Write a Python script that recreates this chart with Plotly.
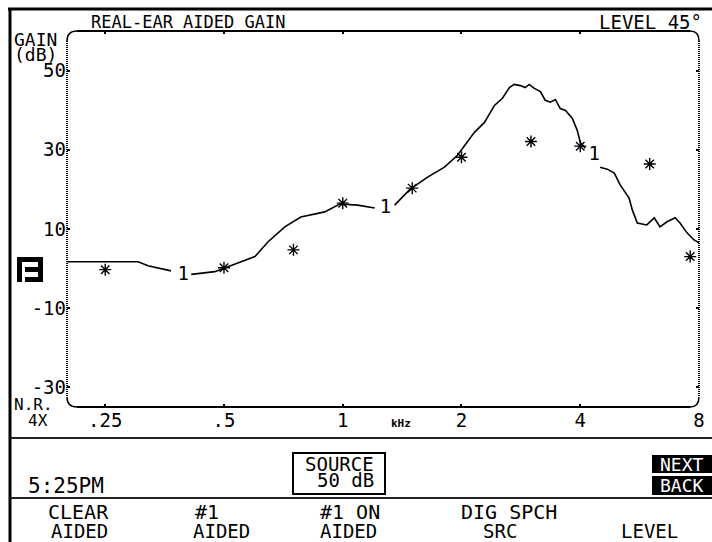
import math
import plotly.graph_objects as go

# ---------------- data ----------------
freq_khz = [0.2, 0.303, 0.321, 0.367, None,
            0.413, 0.474, 0.542, 0.599, 0.646, 0.713, 0.783, 0.900, 0.983, 1.091, 1.205, None,
            1.354, 1.48, 1.641, 1.811, 1.954, 2.071, 2.157, 2.287, 2.424, 2.54, 2.645, 2.72, 2.82,
            2.90, 2.97, 3.06, 3.17, 3.26, 3.36, 3.46, 3.56, 3.67, 3.82, 3.93, 4.0, 4.12, None,
            4.49, 4.68, 4.88, 5.05, 5.32, 5.42, 5.58, 5.9, 6.16, 6.37, 6.64, 6.96, 7.16, 7.46, 7.77, 8.0]
gain_db = [1.7, 1.7, 0.7, -0.6, None,
           -1.5, -0.8, 1.4, 3.0, 6.7, 10.5, 13.0, 14.3, 16.3, 16.0, 15.3, None,
           16.0, 20.0, 23.1, 25.6, 28.6, 31.9, 34.4, 36.9, 41.2, 43.0, 45.7, 46.5, 46.2,
           45.7, 46.5, 45.5, 44.7, 42.5, 42.0, 42.7, 40.4, 39.9, 37.9, 34.9, 31.9, 30.4, None,
           25.6, 25.1, 24.1, 21.1, 17.8, 14.8, 11.5, 11.0, 12.8, 10.5, 11.8, 12.8, 11.5, 9.0, 7.2, 6.5]

target_freq = [0.25, 0.5, 0.75, 1.0, 1.5, 2.0, 3.0, 4.0, 6.0, 7.6]
target_gain = [-0.3, 0.2, 4.7, 16.5, 20.3, 28.1, 32.1, 30.9, 26.4, 3.0]

label_freq = [0.394, 1.284, 4.34]
label_gain = [-1.6, 15.3, 28.6]
label_text = ["1", "1", "1"]

x_tickvals = [0.25, 0.5, 1, 2, 4, 8]
x_ticktext = [".25", ".5", "1", "2", "4", "8"]
y_tickvals = [50, 30, 10, -10, -30]
y_ticktext = ["50", "30", "10", "-10", "-30"]

# ---------------- layout helpers (page pixel coordinates) ----------------
W, H = 712, 542
L, R, T, B = 67, 699, 31, 407
MONO = "DejaVu Sans Mono"


def px(x):
    return (x - L) / (R - L)


def py(y):
    return (B - y) / (B - T)


fig = go.Figure()

fig.add_trace(go.Scatter(x=freq_khz, y=gain_db, mode="lines",
                         line=dict(color="black", width=1.6), connectgaps=False,
                         hoverinfo="skip", showlegend=False))
fig.add_trace(go.Scatter(x=target_freq, y=target_gain, mode="markers",
                         marker=dict(symbol="asterisk-open", size=10, color="black",
                                     line=dict(color="black", width=1.4)),
                         showlegend=False, cliponaxis=False))
fig.add_trace(go.Scatter(x=label_freq, y=label_gain, mode="text", text=label_text,
                         textfont=dict(family=MONO, size=19, color="black"),
                         showlegend=False))

annotations = []


def txt(s, x, y, size=19, anchor="left", color="black"):
    annotations.append(dict(text=s, x=px(x), y=py(y), xref="paper", yref="paper",
                            xanchor=anchor, yanchor="middle", showarrow=False,
                            font=dict(family=MONO, size=size, color=color),
                            borderpad=0))


txt("REAL-EAR AIDED GAIN", 90, 22, 17)
txt("LEVEL 45°", 598, 22, 19)
txt("GAIN", 13, 39, 18)
txt("(dB)", 13, 54, 18)
txt("N.R.", 13, 404, 16)
txt("4X", 27, 420, 16)
txt("<b>kHz</b>", 401, 423, 11, anchor="center")
txt("5:25PM", 27, 486, 21)
txt("SOURCE", 339, 464, 19, anchor="center")
txt("50 dB", 345, 480, 19, anchor="center")
txt("NEXT", 682, 464, 18, anchor="center", color="white")
txt("BACK", 682, 485, 18, anchor="center", color="white")
txt("CLEAR", 78, 512, 20, anchor="center")
txt("AIDED", 79, 531, 19, anchor="center")
txt("#1", 207, 512, 20, anchor="center")
txt("AIDED", 221, 531, 19, anchor="center")
txt("#1 ON", 350, 512, 20, anchor="center")
txt("AIDED", 348, 531, 19, anchor="center")
txt("DIG SPCH", 509, 512, 20, anchor="center")
txt("SRC", 500, 531, 19, anchor="center")
txt("LEVEL", 649, 531, 19, anchor="center")

shapes = []


def line(x0, y0, x1, y1, width=2, color="black", dash="solid"):
    shapes.append(dict(type="line", xref="paper", yref="paper",
                       x0=px(x0), y0=py(y0), x1=px(x1), y1=py(y1),
                       line=dict(color=color, width=width, dash=dash)))


def rect(x0, y0, x1, y1, fill=None, width=0):
    shapes.append(dict(type="rect", xref="paper", yref="paper",
                       x0=px(x0), y0=py(y0), x1=px(x1), y1=py(y1),
                       fillcolor=fill if fill else "rgba(0,0,0,0)",
                       line=dict(color="black", width=width)))


def curve(x0, y0, cx, cy, x1, y1, width=1.5):
    path = f"M {px(x0)},{py(y0)} Q {px(cx)},{py(cy)} {px(x1)},{py(y1)}"
    shapes.append(dict(type="path", xref="paper", yref="paper", path=path,
                       line=dict(color="black", width=width)))


# outer frame
line(10, 8, 10, 542, width=3)
line(8, 9, 712, 9, width=3)
# plot frame: solid top/bottom, dotted sides, rounded corners
line(77, 31, 690, 31, width=2)
line(77, 407, 690, 407, width=2)
line(67, 41, 67, 397, width=2, dash="1px,1px")
line(699, 41, 699, 397, width=2, dash="1px,1px")
curve(67, 41, 67, 31, 77, 31)
curve(690, 31, 699, 31, 699, 41)
curve(67, 397, 67, 407, 77, 407)
curve(690, 407, 699, 407, 699, 397)
# separators
line(10, 438, 712, 438, width=2, color="#222")
line(10, 498, 712, 498, width=2, color="#222")
# source box
rect(293, 453, 385, 494, width=2)
# next / back blocks
rect(652, 455, 712, 473, fill="black")
rect(652, 476, 712, 495, fill="black")
# curve-number icon
rect(17, 257, 22, 282, fill="black")
rect(17, 257, 43, 262, fill="black")
rect(38, 257, 43, 282, fill="black")
rect(25, 267, 43, 272, fill="black")
rect(25, 277, 43, 282, fill="black")

fig.update_layout(
    width=W, height=H, autosize=False,
    margin=dict(l=L, r=W - R, t=T, b=H - B, pad=0, autoexpand=False),
    paper_bgcolor="white", plot_bgcolor="white",
    showlegend=False,
    annotations=annotations,
    shapes=shapes,
    xaxis=dict(type="log", range=[math.log10(0.2), math.log10(8)],
               tickvals=x_tickvals, ticktext=x_ticktext, automargin=False,
               ticks="inside", ticklen=3, tickwidth=1.5, tickcolor="black",
               mirror="ticks", showline=False, showgrid=False, zeroline=False,
               tickfont=dict(family=MONO, size=19, color="black")),
    yaxis=dict(range=[-35, 60], tickvals=y_tickvals, ticktext=y_ticktext, automargin=False,
               ticks="inside", ticklen=3, tickwidth=1.5, tickcolor="black",
               mirror="ticks", showline=False, showgrid=False, zeroline=False,
               tickfont=dict(family=MONO, size=19, color="black")),
)

fig.write_html("out.html",
               config={"responsive": False, "displayModeBar": False},
               post_script="document.body.style.margin='0';"
                           "document.body.style.overflow='hidden';")
